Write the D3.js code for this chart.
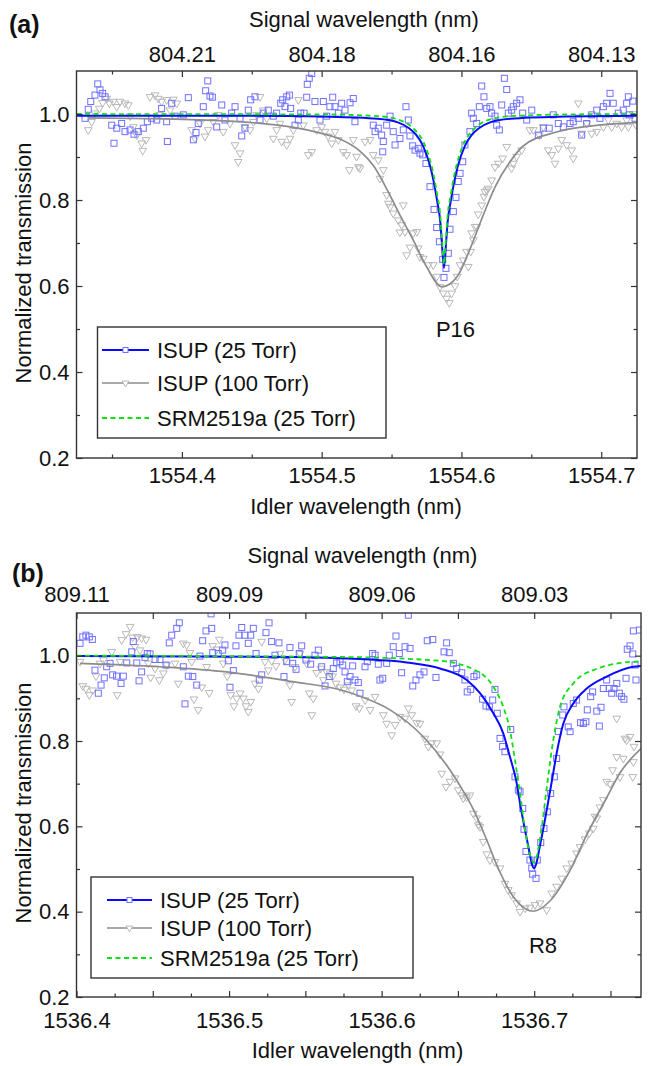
<!DOCTYPE html>
<html>
<head>
<meta charset="utf-8">
<script src="https://cdn.jsdelivr.net/npm/d3@7"></script>
<style>
  body { margin: 0; background: #fff; }
  svg text { font-family: "Liberation Sans", Arial, sans-serif; fill: #111; }
</style>
</head>
<body>
<svg id="chart" width="649" height="1066"></svg>
<script>
// ---- shared ----
var yTicks = [0.2, 0.4, 0.6, 0.8, 1.0];
var yMinorTicks = [0.3, 0.5, 0.7, 0.9];
var legendNames = ["ISUP (25 Torr)", "ISUP (100 Torr)", "SRM2519a (25 Torr)"];

// ---- panel (a): P16 ----
var aIdlerTicks = [1554.4, 1554.5, 1554.6, 1554.7];
var aIdlerMinor = [1554.35, 1554.45, 1554.55, 1554.65];
var aSignalTicks = [1554.4, 1554.5, 1554.6, 1554.7];
var aSignalLabels = ["804.21", "804.18", "804.16", "804.13"];

var aBlueScatter = [
  [1554.3307,0.990],[1554.3330,1.011],[1554.3348,1.029],[1554.3378,1.044],[1554.3398,1.070],[1554.3414,1.056],
  [1554.3433,1.048],[1554.3450,1.040],[1554.3498,0.974],[1554.3514,0.932],[1554.3534,0.967],[1554.3569,0.978],
  [1554.3593,0.959],[1554.3629,0.963],[1554.3657,0.953],[1554.3688,0.959],[1554.3724,0.967],[1554.3753,0.982],
  [1554.3784,0.990],[1554.3820,0.986],[1554.3855,1.013],[1554.3891,0.982],[1554.3896,0.936],[1554.3927,1.025],
  [1554.3951,0.995],[1554.4010,0.998],[1554.4046,1.038],[1554.4082,0.940],[1554.4101,0.957],[1554.4117,0.978],
  [1554.4153,1.017],[1554.4170,1.054],[1554.4185,1.077],[1554.4201,1.042],[1554.4218,1.039],[1554.4249,0.970],
  [1554.4285,1.021],[1554.4308,0.986],[1554.4356,1.002],[1554.4380,1.017],[1554.4416,0.990],[1554.4428,0.949],
  [1554.4451,0.967],[1554.4475,1.009],[1554.4492,1.033],[1554.4523,1.040],[1554.4559,0.986],[1554.4582,1.002],
  [1554.4618,1.009],[1554.4654,0.995],[1554.4678,1.002],[1554.4707,1.025],[1554.4721,1.033],[1554.4738,1.017],
  [1554.4750,1.040],[1554.4769,1.044],[1554.4778,1.013],[1554.4809,0.974],[1554.4833,0.986],[1554.4850,1.002],
  [1554.4874,1.002],[1554.4893,1.039],[1554.4897,1.069],[1554.4911,1.083],[1554.4929,1.094],[1554.4952,1.029],
  [1554.4988,0.986],[1554.5012,1.029],[1554.5036,0.995],[1554.5059,1.017],[1554.5079,1.039],[1554.5095,1.017],
  [1554.5119,1.002],[1554.5143,1.025],[1554.5167,1.009],[1554.5203,1.026],[1554.5226,1.036],[1554.5238,0.982],
  [1554.5369,0.974],[1554.5382,0.959],[1554.5405,0.967],[1554.5429,0.951],[1554.5441,0.936],[1554.5437,0.912],
  [1554.5465,0.974],[1554.5489,0.995],[1554.5512,0.959],[1554.5525,0.928],[1554.5560,0.943],[1554.5584,0.963],
  [1554.5603,1.017],[1554.5620,0.986],[1554.5632,0.949],[1554.5651,0.926],[1554.5668,0.916],[1554.5691,0.920],
  [1554.5703,0.909],[1554.5723,0.905],[1554.5746,0.885],[1554.5775,0.831],[1554.5804,0.778],[1554.5823,0.736],
  [1554.5842,0.703],[1554.5866,0.662],[1554.5875,0.620],[1554.5889,0.641],[1554.5906,0.676],[1554.5918,0.732],
  [1554.5942,0.773],[1554.5961,0.806],[1554.5977,0.843],[1554.5990,0.862],[1554.6009,0.889],[1554.6025,0.928],
  [1554.6061,0.959],[1554.6073,1.002],[1554.6085,0.990],[1554.6109,0.978],[1554.6128,1.017],[1554.6145,1.065],
  [1554.6161,1.040],[1554.6181,1.013],[1554.6204,1.017],[1554.6216,1.002],[1554.6240,0.995],[1554.6252,0.974],
  [1554.6271,0.963],[1554.6288,1.021],[1554.6307,1.083],[1554.6324,1.057],[1554.6335,1.002],[1554.6359,1.009],
  [1554.6371,1.017],[1554.6395,1.025],[1554.6419,1.033],[1554.6438,1.002],[1554.6467,0.986],[1554.6503,1.009],
  [1554.6550,0.951],[1554.6586,0.967],[1554.6628,0.967],[1554.6657,0.998],[1554.6693,0.978],[1554.6729,0.970],
  [1554.6777,0.978],[1554.6800,0.982],[1554.6836,0.990],[1554.6860,0.951],[1554.6896,0.978],[1554.6932,0.998],
  [1554.6968,1.009],[1554.6991,0.990],[1554.7015,1.017],[1554.7039,1.025],[1554.7063,1.048],[1554.7086,1.025],
  [1554.7122,1.002],[1554.7158,1.009],[1554.7182,1.025],[1554.7194,1.040],[1554.7201,0.998],[1554.7227,1.030],
  [1554.7242,0.990]
];

var aGrayScatter = [
  [1554.3330,0.963],[1554.3355,0.982],[1554.3378,1.002],[1554.3409,1.013],[1554.3433,1.026],[1554.3462,1.036],
  [1554.3481,1.025],[1554.3509,1.029],[1554.3534,1.017],[1554.3557,1.029],[1554.3593,1.025],[1554.3617,1.021],
  [1554.3629,0.995],[1554.3652,0.970],[1554.3677,0.951],[1554.3712,0.932],[1554.3720,0.915],[1554.3743,0.940],
  [1554.3772,1.040],[1554.3808,1.044],[1554.3831,1.036],[1554.3843,0.998],[1554.3855,1.029],[1554.3891,1.033],
  [1554.3915,1.009],[1554.3939,1.034],[1554.3963,1.025],[1554.4070,0.963],[1554.4094,0.943],[1554.4130,0.978],
  [1554.4165,0.948],[1554.4189,0.963],[1554.4225,0.982],[1554.4260,0.998],[1554.4296,0.959],[1554.4344,0.978],
  [1554.4380,0.928],[1554.4403,0.889],[1554.4416,0.909],[1554.4451,0.970],[1554.4487,0.963],[1554.4511,0.982],
  [1554.4535,0.998],[1554.4559,1.040],[1554.4582,1.009],[1554.4607,0.990],[1554.4654,0.943],[1554.4678,0.963],
  [1554.4702,0.978],[1554.4714,0.936],[1554.4750,0.928],[1554.4773,0.943],[1554.4797,0.963],[1554.4833,1.033],
  [1554.4869,0.974],[1554.4904,0.905],[1554.4929,0.912],[1554.4964,0.963],[1554.5000,0.970],[1554.5024,0.959],
  [1554.5047,0.948],[1554.5072,0.932],[1554.5095,0.959],[1554.5119,0.940],[1554.5155,0.912],[1554.5179,0.905],
  [1554.5198,0.870],[1554.5226,0.940],[1554.5250,0.901],[1554.5262,0.877],[1554.5274,0.874],[1554.5310,0.936],
  [1554.5346,0.940],[1554.5369,0.905],[1554.5405,0.893],[1554.5417,0.850],[1554.5441,0.870],[1554.5465,0.812],
  [1554.5489,0.784],[1554.5477,0.792],[1554.5512,0.769],[1554.5548,0.753],[1554.5572,0.742],[1554.5560,0.725],
  [1554.5584,0.788],[1554.5596,0.726],[1554.5608,0.672],[1554.5632,0.690],[1554.5655,0.723],[1554.5680,0.726],
  [1554.5691,0.688],[1554.5703,0.668],[1554.5727,0.664],[1554.5763,0.649],[1554.5798,0.649],[1554.5823,0.622],
  [1554.5846,0.598],[1554.5870,0.583],[1554.5894,0.571],[1554.5913,0.561],[1554.5930,0.583],[1554.5954,0.600],
  [1554.5970,0.622],[1554.5990,0.649],[1554.6013,0.660],[1554.6037,0.680],[1554.6049,0.645],[1554.6066,0.680],
  [1554.6073,0.723],[1554.6085,0.707],[1554.6097,0.738],[1554.6109,0.738],[1554.6120,0.767],[1554.6145,0.788],
  [1554.6161,0.808],[1554.6168,0.819],[1554.6181,0.823],[1554.6192,0.827],[1554.6216,0.846],[1554.6240,0.877],
  [1554.6264,0.885],[1554.6295,0.897],[1554.6324,0.924],[1554.6359,0.874],[1554.6371,0.885],[1554.6395,0.901],
  [1554.6431,0.916],[1554.6490,0.963],[1554.6514,0.963],[1554.6557,0.951],[1554.6586,0.970],[1554.6621,0.916],
  [1554.6646,0.905],[1554.6669,0.885],[1554.6693,0.920],[1554.6717,0.940],[1554.6753,0.928],[1554.6789,0.916],
  [1554.6800,0.897],[1554.6836,1.025],[1554.6860,0.955],[1554.6896,0.978],[1554.6932,0.955],[1554.6968,0.959],
  [1554.7015,0.970],[1554.7051,0.986],[1554.7075,0.970],[1554.7111,0.978],[1554.7146,0.970],[1554.7182,0.986],
  [1554.7194,0.970],[1554.7227,1.000],[1554.7249,0.975]
];

var aBlueFit = [
  [1554.3246,0.996],[1554.45,0.996],[1554.50,0.994],[1554.54,0.989],[1554.555,0.980],[1554.5625,0.967],
  [1554.5675,0.952],[1554.5725,0.926],[1554.5775,0.880],[1554.5800,0.845],[1554.5825,0.800],[1554.585,0.745],
  [1554.586,0.700],[1554.5875,0.642],[1554.589,0.700],[1554.590,0.745],[1554.5925,0.800],[1554.595,0.845],
  [1554.5975,0.880],[1554.6025,0.926],[1554.6075,0.952],[1554.6125,0.967],[1554.62,0.980],[1554.635,0.989],
  [1554.675,0.994],[1554.7256,0.996]
];
var aGrayFit = [
  [1554.333,0.991],[1554.38,0.989],[1554.43,0.984],[1554.46,0.977],[1554.48,0.969],[1554.50,0.955],
  [1554.513,0.942],[1554.527,0.915],[1554.537,0.880],[1554.549,0.810],[1554.556,0.765],[1554.565,0.710],
  [1554.575,0.645],[1554.586,0.598],[1554.597,0.622],[1554.606,0.685],[1554.615,0.760],[1554.624,0.830],
  [1554.635,0.890],[1554.644,0.925],[1554.668,0.958],[1554.692,0.972],[1554.7256,0.980]
];
var aGreenFit = [
  [1554.3246,1.000],[1554.50,0.999],[1554.54,0.995],[1554.555,0.987],[1554.5625,0.975],[1554.5675,0.960],
  [1554.5725,0.937],[1554.5775,0.893],[1554.58,0.860],[1554.5825,0.815],[1554.585,0.760],[1554.586,0.715],
  [1554.5875,0.650],[1554.589,0.715],[1554.590,0.760],[1554.5925,0.815],[1554.595,0.860],[1554.5975,0.893],
  [1554.6025,0.937],[1554.6075,0.960],[1554.6125,0.975],[1554.62,0.987],[1554.635,0.995],[1554.675,0.999],
  [1554.7256,1.000]
];

// ---- panel (b): R8 ----
var bIdlerTicks = [1536.4, 1536.45, 1536.5, 1536.55, 1536.6, 1536.65, 1536.7, 1536.75];
var bIdlerMinor = [1536.425, 1536.475, 1536.525, 1536.575, 1536.625, 1536.675, 1536.725];
var bSignalTicks = [1536.4, 1536.45, 1536.5, 1536.55, 1536.6, 1536.65, 1536.7, 1536.75];
var bSignalLabels = ["809.11", "", "809.09", "", "809.06", "", "809.03", ""];

var bBlueScatter = [
  [1536.4023,1.029],[1536.4041,1.044],[1536.4062,1.048],[1536.4084,1.044],[1536.4104,1.038],[1536.4121,0.966],
  [1536.4143,0.912],[1536.4161,0.931],[1536.4182,0.948],[1536.4198,0.974],[1536.4220,0.982],[1536.4237,0.955],
  [1536.4263,0.952],[1536.4292,0.935],[1536.4307,0.952],[1536.4329,0.983],[1536.4362,1.009],[1536.4372,1.033],
  [1536.4395,0.983],[1536.4410,0.941],[1536.4427,0.962],[1536.4449,0.996],[1536.4464,1.005],[1536.4482,1.004],
  [1536.4515,0.991],[1536.4547,0.991],[1536.4587,0.978],[1536.4608,1.030],[1536.4624,1.048],[1536.4657,1.064],
  [1536.4674,1.077],[1536.4700,0.974],[1536.4711,0.887],[1536.4733,0.952],[1536.4762,0.951],[1536.4788,0.931],
  [1536.4809,0.999],[1536.4827,1.035],[1536.4849,1.058],[1536.4882,1.098],[1536.4886,1.064],[1536.4893,1.007],
  [1536.4929,1.005],[1536.4958,1.013],[1536.4973,1.025],[1536.4995,0.988],[1536.5006,0.926],[1536.5028,0.965],
  [1536.5045,1.023],[1536.5065,1.048],[1536.5083,1.066],[1536.5104,1.048],[1536.5126,1.029],[1536.5142,1.048],
  [1536.5159,1.064],[1536.5177,1.005],[1536.5198,0.943],[1536.5214,0.955],[1536.5242,1.054],[1536.5262,1.077],
  [1536.5279,1.033],[1536.5301,1.001],[1536.5327,1.030],[1536.5360,0.951],[1536.5378,0.986],[1536.5399,1.019],
  [1536.5417,0.982],[1536.5439,0.968],[1536.5460,1.005],[1536.5476,1.023],[1536.5504,0.990],[1536.5535,0.980],
  [1536.5563,1.001],[1536.5585,1.013],[1536.5607,0.974],[1536.5629,0.929],[1536.5657,0.951],[1536.5683,0.970],
  [1536.5705,0.983],[1536.5727,0.986],[1536.5745,0.978],[1536.5760,0.962],[1536.5775,0.939],[1536.5793,0.951],
  [1536.5810,0.976],[1536.5825,0.943],[1536.5847,0.937],[1536.5858,0.912],[1536.5891,0.974],[1536.5906,0.986],
  [1536.5941,1.005],[1536.5957,1.001],[1536.5978,0.980],[1536.5989,0.943],[1536.6007,0.947],[1536.6033,0.982],
  [1536.6050,1.001],[1536.6076,1.021],[1536.6094,1.046],[1536.6116,1.005],[1536.6131,0.960],[1536.6153,1.021],
  [1536.6175,1.095],[1536.6186,1.017],[1536.6204,0.929],[1536.6225,0.943],[1536.6251,0.955],[1536.6278,0.962],
  [1536.6299,1.035],[1536.6335,1.038],[1536.6356,0.949],[1536.6409,1.009],[1536.6426,1.030],[1536.6443,1.007],
  [1536.6470,0.982],[1536.6492,0.970],[1536.6525,0.960],[1536.6546,0.943],[1536.6561,0.915],[1536.6584,0.921],
  [1536.6605,0.951],[1536.6623,0.955],[1536.6662,0.898],[1536.6684,0.882],[1536.6706,0.880],[1536.6728,0.896],
  [1536.6743,0.921],[1536.6758,0.865],[1536.6776,0.806],[1536.6793,0.787],[1536.6808,0.775],[1536.6846,0.827],
  [1536.6874,0.716],[1536.6896,0.685],[1536.6907,0.681],[1536.6925,0.642],[1536.6933,0.593],[1536.6946,0.541],
  [1536.6972,0.521],[1536.6984,0.502],[1536.6990,0.488],[1536.7012,0.478],[1536.7020,0.521],[1536.7043,0.562],
  [1536.7064,0.595],[1536.7086,0.634],[1536.7108,0.677],[1536.7132,0.716],[1536.7147,0.759],[1536.7158,0.822],
  [1536.7187,0.861],[1536.7195,0.880],[1536.7223,0.833],[1536.7235,0.822],[1536.7256,0.888],[1536.7278,0.896],
  [1536.7304,0.843],[1536.7322,0.841],[1536.7339,0.845],[1536.7348,0.873],[1536.7370,0.904],[1536.7383,0.915],
  [1536.7410,0.870],[1536.7427,0.835],[1536.7438,0.879],[1536.7453,0.923],[1536.7475,0.943],[1536.7492,0.923],
  [1536.7508,0.912],[1536.7523,0.923],[1536.7541,0.935],[1536.7558,0.912],[1536.7573,0.904],[1536.7588,0.898],
  [1536.7602,0.947],[1536.7610,1.015],[1536.7628,1.023],[1536.7646,1.004],[1536.7650,1.058],[1536.7661,0.978],
  [1536.7667,0.943],[1536.7690,1.060]
];

var bGrayScatter = [
  [1536.4023,0.986],[1536.4041,0.929],[1536.4062,0.923],[1536.4084,0.908],[1536.4106,0.919],[1536.4128,0.952],
  [1536.4154,0.982],[1536.4176,0.990],[1536.4231,1.009],[1536.4267,0.908],[1536.4285,0.986],[1536.4296,1.037],
  [1536.4324,1.051],[1536.4351,1.068],[1536.4368,1.043],[1536.4383,1.021],[1536.4399,1.044],[1536.4416,1.013],
  [1536.4427,1.041],[1536.4456,1.038],[1536.4471,0.982],[1536.4486,0.949],[1536.4515,0.970],[1536.4543,0.943],
  [1536.4569,0.959],[1536.4591,0.978],[1536.4646,0.982],[1536.4667,0.935],[1536.4700,1.029],[1536.4722,1.025],
  [1536.4744,1.007],[1536.4755,0.986],[1536.4770,0.898],[1536.4798,0.873],[1536.4821,0.926],[1536.4853,0.974],
  [1536.4870,0.913],[1536.4893,1.023],[1536.4919,1.015],[1536.4936,1.038],[1536.4962,0.982],[1536.4988,0.952],
  [1536.5011,0.908],[1536.5032,0.882],[1536.5050,0.900],[1536.5072,0.912],[1536.5093,0.900],[1536.5111,0.882],
  [1536.5126,0.869],[1536.5142,0.892],[1536.5170,0.935],[1536.5192,0.923],[1536.5214,1.033],[1536.5235,0.986],
  [1536.5257,0.966],[1536.5279,0.988],[1536.5308,0.976],[1536.5334,1.005],[1536.5367,0.990],[1536.5399,0.931],
  [1536.5410,0.892],[1536.5432,0.974],[1536.5465,1.005],[1536.5509,0.982],[1536.5526,0.912],[1536.5542,0.861],
  [1536.5552,0.900],[1536.5574,0.960],[1536.5601,0.970],[1536.5618,0.943],[1536.5640,0.962],[1536.5662,0.959],
  [1536.5679,0.952],[1536.5701,0.935],[1536.5727,0.926],[1536.5753,0.921],[1536.5782,0.931],[1536.5804,0.919],
  [1536.5832,0.882],[1536.5854,0.877],[1536.5891,0.896],[1536.5924,0.873],[1536.5957,0.904],[1536.6011,0.861],
  [1536.6033,0.841],[1536.6066,0.814],[1536.6088,0.838],[1536.6120,0.857],[1536.6153,0.853],[1536.6175,0.877],
  [1536.6197,0.861],[1536.6230,0.843],[1536.6251,0.841],[1536.6284,0.806],[1536.6306,0.787],[1536.6328,0.795],
  [1536.6361,0.795],[1536.6383,0.769],[1536.6394,0.724],[1536.6422,0.693],[1536.6448,0.705],[1536.6481,0.713],
  [1536.6502,0.685],[1536.6525,0.673],[1536.6535,0.666],[1536.6557,0.669],[1536.6579,0.673],[1536.6601,0.630],
  [1536.6623,0.619],[1536.6634,0.603],[1536.6645,0.599],[1536.6666,0.564],[1536.6689,0.535],[1536.6710,0.521],
  [1536.6743,0.517],[1536.6776,0.502],[1536.6808,0.466],[1536.6830,0.451],[1536.6852,0.439],[1536.6885,0.420],
  [1536.6907,0.400],[1536.6940,0.408],[1536.6972,0.410],[1536.7005,0.416],[1536.7038,0.420],[1536.7082,0.404],
  [1536.7115,0.443],[1536.7147,0.459],[1536.7180,0.478],[1536.7213,0.502],[1536.7246,0.513],[1536.7278,0.537],
  [1536.7300,0.552],[1536.7333,0.570],[1536.7361,0.584],[1536.7387,0.595],[1536.7398,0.623],[1536.7410,0.619],
  [1536.7431,0.645],[1536.7453,0.662],[1536.7475,0.705],[1536.7497,0.700],[1536.7514,0.732],[1536.7541,0.763],
  [1536.7541,0.853],[1536.7562,0.716],[1536.7584,0.759],[1536.7595,0.806],[1536.7606,0.802],[1536.7628,0.810],
  [1536.7646,0.716],[1536.7650,0.751],[1536.7654,0.787]
];

var bBlueFit = [
  [1536.4000,0.999],[1536.5419,0.997],[1536.5858,0.992],[1536.6164,0.984],[1536.6383,0.970],[1536.6558,0.943],
  [1536.6645,0.912],[1536.6732,0.865],[1536.6797,0.818],[1536.6841,0.763],[1536.6881,0.709],[1536.6913,0.642],
  [1536.6953,0.568],[1536.6999,0.502],[1536.7045,0.568],[1536.7084,0.642],[1536.7117,0.709],[1536.7147,0.771],
  [1536.7191,0.841],[1536.7256,0.888],[1536.7344,0.923],[1536.7475,0.951],[1536.7649,0.974],[1536.7700,0.976]
];
var bGrayFit = [
  [1536.4023,0.982],[1536.4547,0.974],[1536.4984,0.962],[1536.5419,0.939],[1536.5727,0.920],[1536.5858,0.905],
  [1536.6055,0.873],[1536.6273,0.810],[1536.6448,0.732],[1536.6514,0.695],[1536.6601,0.640],[1536.6689,0.568],
  [1536.6754,0.510],[1536.6863,0.435],[1536.6994,0.401],[1536.7103,0.425],[1536.7235,0.497],[1536.7344,0.580],
  [1536.7475,0.667],[1536.7562,0.725],[1536.7700,0.782]
];
var bGreenFit = [
  [1536.4000,1.000],[1536.5727,0.997],[1536.6383,0.988],[1536.6645,0.960],[1536.6732,0.927],[1536.6797,0.880],
  [1536.6841,0.826],[1536.6874,0.755],[1536.6907,0.677],[1536.6943,0.584],[1536.6999,0.515],[1536.7045,0.587],
  [1536.7082,0.690],[1536.7125,0.802],[1536.7169,0.880],[1536.7256,0.935],[1536.7387,0.966],[1536.7649,0.986],
  [1536.7700,0.987]
];

// ---- styles ----
var blueLine = "#0a0aff", blueMark = "#7070ff";
var grayLine = "#8c8c8c", grayMark = "#b8b8b8";
var greenLine = "#10e010";
var frameColor = "#333";
var fontSize = 22;

var svg = d3.select("#chart");

function drawPanel(p) {
  var g = svg.append("g");
  var x = d3.scaleLinear().domain(p.xDomain).range([p.left, p.right]);
  var y = d3.scaleLinear().domain([0.2, 1.1]).range([p.bottom, p.top]);

  var clipId = "clip" + p.name;
  svg.append("clipPath").attr("id", clipId).append("rect")
      .attr("x", p.left).attr("y", p.top)
      .attr("width", p.right - p.left).attr("height", p.bottom - p.top);

  var plot = g.append("g").attr("clip-path", "url(#" + clipId + ")");

  // scatter
  var tri = d3.symbol().type(d3.symbolTriangle).size(26);
  plot.selectAll(".tri").data(p.grayScatter).enter().append("path")
      .attr("d", tri)
      .attr("transform", function(d) { return "translate(" + x(d[0]) + "," + y(d[1]) + ") rotate(180)"; })
      .attr("fill", "none").attr("stroke", grayMark).attr("stroke-width", 1);

  plot.selectAll(".sq").data(p.blueScatter).enter().append("rect")
      .attr("x", function(d) { return x(d[0]) - 3; })
      .attr("y", function(d) { return y(d[1]) - 3; })
      .attr("width", 6).attr("height", 6)
      .attr("fill", "none").attr("stroke", blueMark).attr("stroke-width", 1);

  // fitted curves
  var line = d3.line()
      .x(function(d) { return x(d[0]); })
      .y(function(d) { return y(d[1]); })
      .curve(d3.curveMonotoneX);

  plot.append("path").datum(p.grayFit).attr("d", line)
      .attr("fill", "none").attr("stroke", grayLine).attr("stroke-width", 1.7);
  plot.append("path").datum(p.blueFit).attr("d", line)
      .attr("fill", "none").attr("stroke", blueLine).attr("stroke-width", 2);
  plot.append("path").datum(p.greenFit).attr("d", line)
      .attr("fill", "none").attr("stroke", greenLine).attr("stroke-width", 1.8)
      .attr("stroke-dasharray", "5,3.5");

  // axes
  function styleAxis(sel) {
    sel.select(".domain").remove();
    sel.selectAll("line").attr("stroke", frameColor).attr("stroke-width", 1.2);
    sel.selectAll("text").attr("font-size", fontSize).attr("fill", "#111")
        .attr("font-family", "'Liberation Sans', Arial, sans-serif");
    sel.attr("font-family", null).attr("font-size", null);
  }

  g.append("g").attr("transform", "translate(0," + p.bottom + ")")
      .call(d3.axisBottom(x).tickValues(p.idlerTicks).tickSize(-6).tickPadding(p.bottomPad)
        .tickFormat(function(d) { return p.idlerLabel(d); }))
      .call(styleAxis);
  g.append("g").attr("transform", "translate(0," + p.bottom + ")")
      .call(d3.axisBottom(x).tickValues(p.idlerMinor).tickSize(-3.5).tickFormat(""))
      .call(styleAxis);

  g.append("g").attr("transform", "translate(0," + p.top + ")")
      .call(d3.axisTop(x).tickValues(p.signalTicks).tickSize(-6).tickPadding(p.topPad)
        .tickFormat(function(d, i) { return p.signalLabels[i]; }))
      .call(styleAxis);
  if (p.signalMinor) {
    g.append("g").attr("transform", "translate(0," + p.top + ")")
        .call(d3.axisTop(x).tickValues(p.signalMinor).tickSize(-3.5).tickFormat(""))
        .call(styleAxis);
  }

  g.append("g").attr("transform", "translate(" + p.left + ",0)")
      .call(d3.axisLeft(y).tickValues(yTicks).tickSize(-6).tickPadding(7)
        .tickFormat(d3.format(".1f")))
      .call(styleAxis);
  g.append("g").attr("transform", "translate(" + p.left + ",0)")
      .call(d3.axisLeft(y).tickValues(yMinorTicks).tickSize(-3.5).tickFormat(""))
      .call(styleAxis);
  g.append("g").attr("transform", "translate(" + p.right + ",0)")
      .call(d3.axisRight(y).tickValues(yTicks).tickSize(-6).tickFormat(""))
      .call(styleAxis);
  g.append("g").attr("transform", "translate(" + p.right + ",0)")
      .call(d3.axisRight(y).tickValues(yMinorTicks).tickSize(-3.5).tickFormat(""))
      .call(styleAxis);

  // frame
  g.append("rect")
      .attr("x", p.left).attr("y", p.top)
      .attr("width", p.right - p.left).attr("height", p.bottom - p.top)
      .attr("fill", "none").attr("stroke", frameColor).attr("stroke-width", 1.4);

  // titles
  g.append("text").attr("x", p.signalTitleX).attr("y", p.signalTitleY)
      .attr("text-anchor", "middle").attr("font-size", fontSize)
      .text("Signal wavelength (nm)");
  g.append("text").attr("x", p.idlerTitleX).attr("y", p.idlerTitleY)
      .attr("text-anchor", "middle").attr("font-size", fontSize)
      .text("Idler wavelength (nm)");
  g.append("text")
      .attr("transform", "translate(31," + p.yTitleY + ") rotate(-90)")
      .attr("text-anchor", "middle").attr("font-size", fontSize)
      .text("Normalized transmission");
  g.append("text").attr("x", p.tagX).attr("y", p.tagY)
      .attr("font-size", 25).attr("font-weight", "bold")
      .text(p.tag);
  g.append("text").attr("x", p.lineLabelX).attr("y", p.lineLabelY)
      .attr("text-anchor", "middle").attr("font-size", fontSize)
      .text(p.lineLabel);

  // legend
  var L = p.legend;
  g.append("rect").attr("x", L.x0).attr("y", L.y0)
      .attr("width", L.x1 - L.x0).attr("height", L.y1 - L.y0)
      .attr("fill", "#fff").attr("stroke", frameColor).attr("stroke-width", 1.4);
  var rowStyles = [
    { stroke: blueLine, width: 2, dash: null, mark: "sq" },
    { stroke: grayLine, width: 1.7, dash: null, mark: "tri" },
    { stroke: greenLine, width: 1.8, dash: "5,3.5", mark: null }
  ];
  legendNames.forEach(function(name, i) {
    var ry = L.rows[i], st = rowStyles[i];
    g.append("line").attr("x1", L.lx0).attr("x2", L.lx1).attr("y1", ry).attr("y2", ry)
        .attr("stroke", st.stroke).attr("stroke-width", st.width)
        .attr("stroke-dasharray", st.dash);
    var mx = (L.lx0 + L.lx1) / 2;
    if (st.mark === "sq") {
      g.append("rect").attr("x", mx - 2.5).attr("y", ry - 2.5).attr("width", 5).attr("height", 5)
          .attr("fill", "#fff").attr("stroke", blueMark).attr("stroke-width", 1);
    } else if (st.mark === "tri") {
      g.append("path").attr("d", d3.symbol().type(d3.symbolTriangle).size(20))
          .attr("transform", "translate(" + mx + "," + ry + ") rotate(180)")
          .attr("fill", "#fff").attr("stroke", grayMark).attr("stroke-width", 1);
    }
    g.append("text").attr("x", L.tx).attr("y", ry + 8)
        .attr("font-size", fontSize).text(name);
  });
}

drawPanel({
  name: "a", tag: "(a)", tagX: 9, tagY: 33,
  left: 76.5, right: 637, top: 71, bottom: 458,
  xDomain: [1554.3246, 1554.7256],
  idlerTicks: aIdlerTicks, idlerMinor: aIdlerMinor,
  idlerLabel: d3.format(".1f"),
  signalTicks: aSignalTicks, signalLabels: aSignalLabels, signalMinor: aIdlerMinor,
  bottomPad: 9, topPad: 9,
  blueScatter: aBlueScatter, grayScatter: aGrayScatter,
  blueFit: aBlueFit, grayFit: aGrayFit, greenFit: aGreenFit,
  signalTitleX: 364, signalTitleY: 27,
  idlerTitleX: 356, idlerTitleY: 514,
  yTitleY: 263,
  lineLabel: "P16", lineLabelX: 455.5, lineLabelY: 337,
  legend: { x0: 97.5, x1: 386, y0: 327, y1: 438, rows: [350, 383, 418], lx0: 102, lx1: 149, tx: 157 }
});

drawPanel({
  name: "b", tag: "(b)", tagX: 12, tagY: 582,
  left: 76.5, right: 641, top: 613, bottom: 997,
  xDomain: [1536.4, 1536.770],
  idlerTicks: bIdlerTicks, idlerMinor: bIdlerMinor,
  idlerLabel: function(d) { return (Math.round(d * 100) % 10 === 0) ? d3.format(".1f")(d) : ""; },
  signalTicks: bSignalTicks, signalLabels: bSignalLabels, signalMinor: null,
  bottomPad: 15, topPad: 11,
  blueScatter: bBlueScatter, grayScatter: bGrayScatter,
  blueFit: bBlueFit, grayFit: bGrayFit, greenFit: bGreenFit,
  signalTitleX: 362.5, signalTitleY: 563,
  idlerTitleX: 357.5, idlerTitleY: 1058,
  yTitleY: 803,
  lineLabel: "R8", lineLabelX: 543, lineLabelY: 953,
  legend: { x0: 91, x1: 413, y0: 877, y1: 978, rows: [900, 928, 958], lx0: 107, lx1: 152, tx: 160 }
});
</script>
</body>
</html>
